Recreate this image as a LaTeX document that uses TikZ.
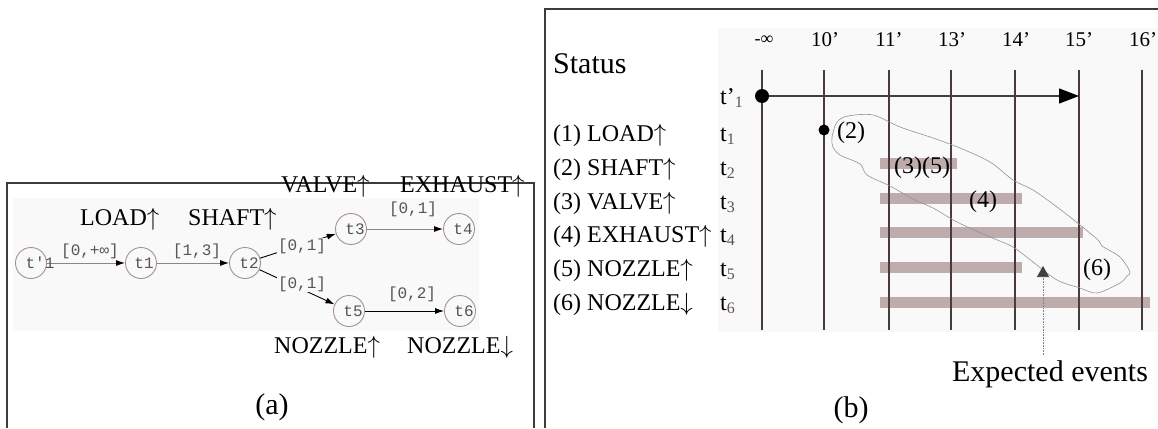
\documentclass[tikz,border=0pt]{standalone}
\usepackage{fontspec}
\setmainfont{Liberation Serif}
\newfontfamily\monof{Liberation Mono}
\usetikzlibrary{arrows.meta}
\definecolor{framec}{RGB}{60,60,60}
\definecolor{bga}{RGB}{249,249,249}
\definecolor{circc}{RGB}{165,145,145}
\definecolor{grayline}{RGB}{150,130,130}
\definecolor{vline}{RGB}{75,58,58}
\definecolor{barc}{RGB}{190,172,172}
\definecolor{txtg}{RGB}{85,85,85}
\definecolor{subc}{RGB}{100,80,80}
\newcommand{\mysub}[1]{\raisebox{-0.35ex}{\fontsize{16}{18}\selectfont\textcolor{subc}{#1}}}
\newcommand{\up}{$\uparrow$}
\newcommand{\dn}{$\downarrow$}
\begin{document}
\begin{tikzpicture}[x=1pt,y=-1pt,
  lbl/.style={font=\fontsize{24}{28}\selectfont, inner sep=0pt},
  big/.style={font=\fontsize{30}{34}\selectfont, inner sep=0pt},
  tlab/.style={font=\fontsize{21}{24}\selectfont, inner sep=0pt},
  mono/.style={font=\monof\fontsize{16}{18}\selectfont, text=txtg, inner sep=0pt},
  elab/.style={mono, fill=bga, inner sep=1pt},
  tnode/.style={circle, draw=circc, line width=0.9pt, minimum size=31pt, inner sep=0pt},
  earrow/.style={draw=grayline, line width=1pt, -{Latex[length=9pt,width=6pt,color=black]}},
  karrow/.style={draw=black, line width=0.9pt, -{Latex[length=9pt,width=6pt,color=black]}},
  frameline/.style={draw=framec, line width=1.4pt},
  vl/.style={draw=vline, line width=1.3pt},
  bar/.style={fill=barc, draw=none}
]
\useasboundingbox (0,0) rectangle (1158,428);
\fill[white] (0,0) rectangle (1158,428);

% ---------------- panel (a) ----------------
\draw[frameline] (7,428) -- (7,183) -- (534,183) -- (534,428);
\fill[bga] (13,198) rectangle (479,331);

\node[tnode] (tp1) at (31,263) {};
\node[tnode] (t1) at (141,263) {};
\node[tnode] (t2) at (245,263) {};
\node[tnode] (t3) at (351,229) {};
\node[tnode] (t4) at (459,229) {};
\node[tnode] (t5) at (349,311) {};
\node[tnode] (t6) at (460,311) {};

\draw[earrow] (tp1) -- (t1);
\draw[earrow] (t1) -- (t2);
\draw[karrow] (t2) -- (t3);
\draw[karrow] (t2) -- (t5);
\draw[earrow] (t3) -- (t4);
\draw[karrow] (t5) -- (t6);

\node[mono] at (40,263) {t'1};
\node[mono] at (144,263) {t1};
\node[mono] at (249,263) {t2};
\node[mono] at (355,229) {t3};
\node[mono] at (463,229) {t4};
\node[mono] at (353,311) {t5};
\node[mono] at (464,311) {t6};

\node[mono] (l1) at (90,251) {[0,+∞]};
\node[mono] (l2) at (197,251) {[1,3]};
\node[elab] (l3) at (302,246) {[0,1]};
\node[elab] (l4) at (302,284) {[0,1]};
\node[mono] (l5) at (413,209) {[0,1]};
\node[mono] (l6) at (412,294) {[0,2]};

\node[lbl, anchor=base west] (aload) at (80,225) {LOAD\up};
\node[lbl, anchor=base west] (ashaft) at (188,225) {SHAFT\up};
\node[lbl, anchor=base west] (avalve) at (281,192) {VALVE\up};
\node[lbl, anchor=base west] (aexh) at (400,192) {EXHAUST\up};
\node[lbl, anchor=base west] (anozu) at (274,353) {NOZZLE\up};
\node[lbl, anchor=base west] (anozd) at (407,353) {NOZZLE\dn};
\node[big, anchor=base] (capa) at (272,414) {(a)};

% ---------------- panel (b) ----------------
\draw[frameline] (545,428) -- (545,9) -- (1158,9);
\fill[bga] (718,28) rectangle (1158,332);

\node[big, anchor=base west] (status) at (553,74) {Status};

\node[tlab, anchor=base, font=\fontsize{18}{20}\selectfont] (h0) at (764,45) {-∞};
\node[tlab, anchor=base] (h1) at (825,47) {10’};
\node[tlab, anchor=base] (h2) at (889,47) {11’};
\node[tlab, anchor=base] (h3) at (952,47) {13’};
\node[tlab, anchor=base] (h4) at (1016,47) {14’};
\node[tlab, anchor=base] (h5) at (1079,47) {15’};
\node[tlab, anchor=base] (h6) at (1143,47) {16’};

% bars
\fill[bar] (880,158) rectangle (957,169);
\fill[bar] (880,193) rectangle (1022,204);
\fill[bar] (880,227) rectangle (1083,238);
\fill[bar] (880,262) rectangle (1022,273);
\fill[bar] (880,297) rectangle (1150,308);

% vertical time lines
\foreach \x/\n in {762/0,824/1,889/2,951/3,1015/4,1079/5,1142/6}{
  \coordinate (vt\n) at (\x,70);
  \coordinate (vb\n) at (\x,330);
  \draw[vl] (vt\n) -- (vb\n);
}

% row labels
\node[lbl, anchor=base west] (r1) at (553,141) {(1) LOAD\up};
\node[lbl, anchor=base west] (r2) at (553,175) {(2) SHAFT\up};
\node[lbl, anchor=base west] (r3) at (553,209) {(3) VALVE\up};
\node[lbl, anchor=base west] (r4) at (553,242) {(4) EXHAUST\up};
\node[lbl, anchor=base west] (r5) at (553,276) {(5) NOZZLE\up};
\node[lbl, anchor=base west] (r6) at (553,310) {(6) NOZZLE\dn};

\node[lbl, anchor=base west] (s0) at (720,104) {t’\mysub{1}};
\node[lbl, anchor=base west] (s1) at (720,141) {t\mysub{1}};
\node[lbl, anchor=base west] (s2) at (720,175) {t\mysub{2}};
\node[lbl, anchor=base west] (s3) at (720,209) {t\mysub{3}};
\node[lbl, anchor=base west] (s4) at (720,242) {t\mysub{4}};
\node[lbl, anchor=base west] (s5) at (720,276) {t\mysub{5}};
\node[lbl, anchor=base west] (s6) at (720,310) {t\mysub{6}};

% t'1 arrow
\node[circle, fill=black, minimum size=14pt, inner sep=0pt] (bigdot) at (762,96) {};
\coordinate (arrend) at (1079,96);
\draw[draw=vline, line width=1.3pt, -{Triangle[length=20pt,width=15pt,color=black]}] (bigdot) -- (arrend);
\node[circle, fill=black, minimum size=11pt, inner sep=0pt] (smalldot) at (824,130) {};

\node[lbl] (e2) at (851,133) {(2)};
\node[lbl] (e35) at (922,168) {(3)(5)};
\node[lbl] (e4) at (983,202) {(4)};
\node[lbl] (e6) at (1097,270) {(6)};

% lasso of expected events
\draw[draw=gray!85, line width=0.6pt] plot[smooth cycle, tension=0.5] coordinates {
 (848,116) (873,115) (900,127) (933,138) (960,148) (990,162) (1013,180)
 (1033,190) (1057,207) (1080,225) (1098,240) (1102,246) (1120,257) (1130,272)
 (1127,276) (1120,283) (1097,293) (1080,288) (1057,280) (1033,262) (1013,247)
 (990,237) (957,222) (933,208) (913,199) (890,186) (867,175) (860,164)
 (840,155) (833,147) (832,137) (837,122)};

\node[big, anchor=base] (ee) at (1050,381) {Expected events};
\coordinate (eetop) at (1043,355);
\coordinate (eetip) at (1043,266);
\draw[draw=gray, line width=0.6pt, densely dotted, -{Triangle[length=11pt,width=12pt,color=black!75]}] (eetop) -- (eetip);

\node[big, anchor=base] (capb) at (851,417) {(b)};
\end{tikzpicture}
\end{document}
